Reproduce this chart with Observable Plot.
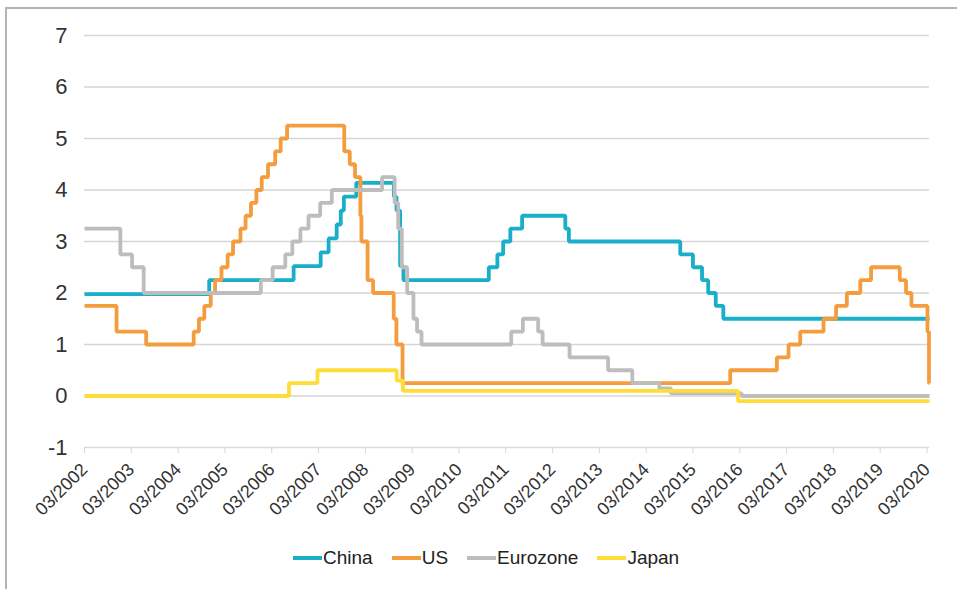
<!DOCTYPE html>
<html>
<head>
<meta charset="utf-8">
<script src="https://cdn.jsdelivr.net/npm/d3@7"></script>
<script src="https://cdn.jsdelivr.net/npm/@observablehq/plot@0.6"></script>
<style>
  html, body { margin: 0; padding: 0; background: #ffffff; }
  #wrap { position: relative; width: 957px; height: 589px; overflow: hidden;
          font-family: "Liberation Sans", Arial, sans-serif; }
  #frame { position: absolute; left: 5px; top: 7px; width: 960px; height: 590px;
           border-left: 2px solid #b4b4b4; border-top: 2px solid #b4b4b4; background: #fff; }
  #chart { position: absolute; left: 0; top: 0; }
  #legend { position: absolute; left: 293px; top: 547px; display: flex; align-items: center;
            font-size: 19px; color: #222; white-space: nowrap; }
  .item { display: flex; align-items: center; margin-right: 19px; }
  .sw { width: 29px; height: 4px; margin-right: 1px; }
</style>
</head>
<body>
<div id="wrap">
  <div id="frame"></div>
  <div id="chart"></div>
  <div id="legend"></div>
</div>
<script>
// ---- Data ----
const seriesNames = ["China", "US", "Eurozone", "Japan"];
const seriesColors = ["#1aafc8", "#f49d3e", "#bdbdbd", "#fedd38"];

const chinaDates = ["2002-03-01","2004-10-29","2006-08-19","2007-03-18","2007-05-19","2007-07-21","2007-08-22","2007-09-15","2007-12-21","2008-10-09","2008-10-30","2008-11-27","2008-12-23","2010-10-20","2010-12-26","2011-02-09","2011-04-06","2011-07-07","2012-06-08","2012-07-06","2014-11-22","2015-03-01","2015-05-11","2015-06-28","2015-08-26","2015-10-24","2020-03-20"];
const chinaValues = [1.98,2.25,2.52,2.79,3.06,3.33,3.60,3.87,4.14,3.87,3.60,2.52,2.25,2.50,2.75,3.00,3.25,3.50,3.25,3.00,2.75,2.50,2.25,2.00,1.75,1.50,1.50];

const usDates = ["2002-03-01","2002-11-06","2003-06-25","2004-06-30","2004-08-10","2004-09-21","2004-11-10","2004-12-14","2005-02-02","2005-03-22","2005-05-03","2005-06-30","2005-08-09","2005-09-20","2005-11-01","2005-12-13","2006-01-31","2006-03-28","2006-05-10","2006-06-29","2007-09-18","2007-10-31","2007-12-11","2008-01-22","2008-01-30","2008-03-18","2008-04-30","2008-10-08","2008-10-29","2008-12-16","2015-12-17","2016-12-15","2017-03-16","2017-06-15","2017-12-14","2018-03-22","2018-06-14","2018-09-27","2018-12-20","2019-08-01","2019-09-19","2019-10-31","2020-03-04","2020-03-16","2020-03-20"];
const usValues = [1.75,1.25,1.00,1.25,1.50,1.75,2.00,2.25,2.50,2.75,3.00,3.25,3.50,3.75,4.00,4.25,4.50,4.75,5.00,5.25,4.75,4.50,4.25,3.50,3.00,2.25,2.00,1.50,1.00,0.25,0.50,0.75,1.00,1.25,1.50,1.75,2.00,2.25,2.50,2.25,2.00,1.75,1.25,0.25,0.25];

const euroDates = ["2002-03-01","2002-12-06","2003-03-07","2003-06-06","2005-12-06","2006-03-08","2006-06-15","2006-08-09","2006-10-11","2006-12-13","2007-03-14","2007-06-13","2008-07-09","2008-10-15","2008-11-12","2008-12-10","2009-01-21","2009-03-11","2009-04-08","2009-05-13","2011-04-13","2011-07-13","2011-11-09","2011-12-14","2012-07-11","2013-05-08","2013-11-13","2014-06-11","2014-09-10","2016-03-16","2020-03-20"];
const euroValues = [3.25,2.75,2.50,2.00,2.25,2.50,2.75,3.00,3.25,3.50,3.75,4.00,4.25,3.75,3.25,2.50,2.00,1.50,1.25,1.00,1.25,1.50,1.25,1.00,0.75,0.50,0.25,0.15,0.05,0.00,0.00];

const japanDates = ["2002-03-01","2006-07-14","2007-02-21","2008-10-31","2008-12-19","2016-02-16","2020-03-20"];
const japanValues = [0.00,0.25,0.50,0.30,0.10,-0.10,-0.10];

const xTickDates = ["2002-03-01","2003-03-01","2004-03-01","2005-03-01","2006-03-01","2007-03-01","2008-03-01","2009-03-01","2010-03-01","2011-03-01","2012-03-01","2013-03-01","2014-03-01","2015-03-01","2016-03-01","2017-03-01","2018-03-01","2019-03-01","2020-03-01"];
const yTicks = [-1, 0, 1, 2, 3, 4, 5, 6, 7];
const xDomain = ["2002-03-01", "2020-03-20"];

// ---- Build table ----
const seriesData = [
  [chinaDates, chinaValues],
  [usDates, usValues],
  [euroDates, euroValues],
  [japanDates, japanValues]
];
const rows = [];
seriesData.forEach(([ds, vs], i) => {
  ds.forEach((d, j) => rows.push({series: seriesNames[i], date: new Date(d), value: vs[j]}));
});

const chart = Plot.plot({
  width: 957,
  height: 540,
  marginLeft: 84,
  marginRight: 28,
  marginTop: 35,
  marginBottom: 93,
  style: {fontFamily: "'Liberation Sans', Arial, sans-serif", color: "#333", background: "transparent"},
  x: {type: "utc", domain: xDomain.map(d => new Date(d)), label: null},
  y: {domain: [-1, 7], label: null},
  color: {domain: seriesNames, range: seriesColors},
  marks: [
    Plot.gridY(yTicks.filter(d => d > -1), {stroke: "#d6d6d6", strokeOpacity: 1, strokeWidth: 1.5}),
    Plot.ruleY([-1], {stroke: "#dadada", strokeWidth: 1.5}),
    Plot.axisY({ticks: yTicks, tickSize: 0, tickPadding: 17, fontSize: 22, label: null, tickFormat: d => String(d)}),
    Plot.axisX({ticks: xTickDates.map(d => new Date(d)), tickFormat: d3.utcFormat("%m/%Y"), label: null,
                tickRotate: -45, tickSize: 6, tickPadding: 13, fontSize: 18, stroke: "#d6d6d6"}),
    Plot.line(rows, {x: "date", y: "value", z: "series", stroke: "series",
                     curve: "step-after", strokeWidth: 3.8, strokeLinejoin: "miter", strokeLinecap: "butt"})
  ]
});
document.getElementById("chart").appendChild(chart);

const legend = document.getElementById("legend");
seriesNames.forEach((name, i) => {
  const item = document.createElement("div");
  item.className = "item";
  const sw = document.createElement("div");
  sw.className = "sw";
  sw.style.background = seriesColors[i];
  const lab = document.createElement("span");
  lab.textContent = name;
  item.appendChild(sw);
  item.appendChild(lab);
  legend.appendChild(item);
});
</script>
</body>
</html>
